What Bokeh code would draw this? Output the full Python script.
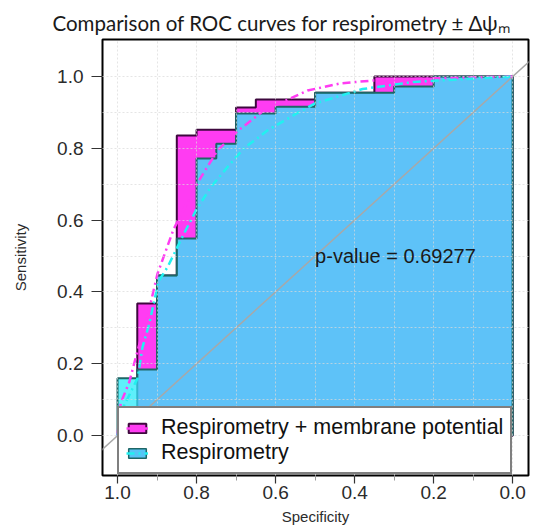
from bokeh.plotting import figure
from bokeh.models import (Range1d, FixedTicker, PrintfTickFormatter, Legend,
                          LegendItem, ColumnDataSource, Label)
from bokeh.embed import file_html
from bokeh.resources import INLINE

# ---- data ----
# ROC step curve vertices: Respirometry
resp_spec = [1.00, 1.00, 0.95, 0.95, 0.90, 0.90, 0.85, 0.85, 0.80, 0.80, 0.75, 0.75,
             0.70, 0.70, 0.60, 0.60, 0.50, 0.50, 0.30, 0.30, 0.20, 0.20, 0.00]
resp_sens = [0.000, 0.160, 0.160, 0.184, 0.184, 0.446, 0.446, 0.549, 0.549, 0.772,
             0.772, 0.813, 0.813, 0.897, 0.897, 0.916, 0.916, 0.955, 0.955, 0.972,
             0.972, 1.000, 1.000]
# ROC step curve vertices: Respirometry + membrane potential
combo_spec = [1.00, 0.95, 0.95, 0.90, 0.90, 0.85, 0.85, 0.80, 0.80, 0.70, 0.70,
              0.65, 0.65, 0.50, 0.50, 0.35, 0.35, 0.00]
combo_sens = [0.000, 0.000, 0.368, 0.368, 0.446, 0.446, 0.836, 0.836, 0.852, 0.852,
              0.914, 0.914, 0.936, 0.936, 0.955, 0.955, 1.000, 1.000]
# smoothed ROC curves
combo_smooth_spec = [1.00, 0.992, 0.97, 0.954, 0.916, 0.899, 0.858, 0.797, 0.747,
                     0.694, 0.630, 0.519, 0.435, 0.352, 0.20, 0.00]
combo_smooth_sens = [0.00, 0.09, 0.15, 0.217, 0.37, 0.45, 0.575, 0.705, 0.794,
                     0.850, 0.905, 0.961, 0.981, 0.989, 0.995, 1.00]
resp_smooth_spec = [1.00, 0.985, 0.949, 0.937, 0.92, 0.896, 0.873, 0.833, 0.80,
                    0.765, 0.72, 0.68, 0.62, 0.55, 0.50, 0.38, 0.25, 0.00]
resp_smooth_sens = [0.00, 0.08, 0.16, 0.245, 0.31, 0.43, 0.47, 0.56, 0.63,
                    0.69, 0.75, 0.80, 0.85, 0.895, 0.925, 0.965, 0.985, 1.00]
p_value = 0.69277
x_ticks = [1.0, 0.8, 0.6, 0.4, 0.2, 0.0]
y_ticks = [0.0, 0.2, 0.4, 0.6, 0.8, 1.0]
legend_labels = ["Respirometry + membrane potential", "Respirometry"]
title_text = "Comparison of ROC curves for respirometry \u00b1 \u0394\u03c8\u2098"

MAGENTA = "#FF3CF2"
MAGENTA_DARK = "#3E083E"
CYAN = "#2EEAFA"
TEAL_DARK = "#1E6666"
BLUE_SWATCH = "#58C4F6"
SMOOTH_CYAN = "#22F0F0"
TXT = "#2b2b2b"
FONT = "Liberation Sans"

p = figure(width=536, height=530, x_range=Range1d(1.038, -0.04),
           y_range=Range1d(-0.111, 1.103), output_backend="svg",
           toolbar_location=None, min_border_left=102, min_border_right=8,
           min_border_top=39, min_border_bottom=55)
p.background_fill_color = "white"
p.border_fill_color = "white"
p.outline_line_color = "black"
p.outline_line_width = 2

# grid every 0.1, drawn over the fills
grid_ticks = [i / 10 for i in range(11)]
for g in (p.xgrid, p.ygrid):
    g.ticker = FixedTicker(ticks=grid_ticks)
    g.grid_line_color = "#DADADA"
    g.grid_line_alpha = 0.7
    g.grid_line_dash = "2 2"
    g.grid_line_width = 1
    g.level = "guide"

# AUC polygons
combo_src = ColumnDataSource(dict(x=combo_spec + [combo_spec[-1]],
                                  y=combo_sens + [combo_sens[0]]))
resp_src = ColumnDataSource(dict(x=resp_spec + [resp_spec[-1]],
                                 y=resp_sens + [resp_sens[0]]))
combo_patch = p.patch("x", "y", source=combo_src, fill_color=MAGENTA, fill_alpha=1.0,
                      line_color=MAGENTA_DARK, line_width=2)
p.patch("x", "y", source=resp_src, fill_color=CYAN, fill_alpha=0.77,
        line_color=None)
p.line("x", "y", source=resp_src, line_color=TEAL_DARK, line_width=2)

# diagonal reference
p.line([1.1, -0.1], [-0.1, 1.1], line_color="#A8A8A8", line_width=1.5)

# smoothed curves
combo_smooth = p.line(combo_smooth_spec, combo_smooth_sens, line_color=MAGENTA,
                      line_width=2.5, line_dash="8 4 2 4")
resp_smooth = p.line(resp_smooth_spec, resp_smooth_sens, line_color=SMOOTH_CYAN,
                     line_width=2.5, line_dash="8 4 2 4")

# p-value text
p.add_layout(Label(x=0.5, y=0.5, text=f"p-value = {p_value}", text_align="left",
                   text_baseline="middle", text_font=FONT,
                   text_font_size="20px", text_color="#1a1a1a"))

# legend swatch renderer (no visible data)
nan = float("nan")
swatch_src = ColumnDataSource(dict(x=[nan], y=[nan]))
lg_r_fill = p.patch("x", "y", source=swatch_src, fill_color=BLUE_SWATCH,
                    line_color=TEAL_DARK, line_width=1.5)
legend = Legend(items=[LegendItem(label=legend_labels[0], renderers=[combo_patch, combo_smooth]),
                       LegendItem(label=legend_labels[1], renderers=[lg_r_fill, resp_smooth])],
                location=(15, 1), orientation="vertical")
legend.border_line_color = "black"
legend.border_line_width = 2
legend.background_fill_color = "white"
legend.background_fill_alpha = 1.0
legend.label_text_font = FONT
legend.label_text_font_size = "21.5px"
legend.label_text_color = "#111111"
legend.glyph_width = 22
legend.glyph_height = 12
legend.label_standoff = 13
legend.padding = 7
legend.spacing = 0
legend.margin = 0
legend.label_height = 25
p.add_layout(legend, "center")

# axes
p.xaxis.ticker = FixedTicker(ticks=x_ticks, minor_ticks=[0.9, 0.7, 0.5, 0.3, 0.1])
p.yaxis.ticker = FixedTicker(ticks=y_ticks)
for ax in (p.xaxis, p.yaxis):
    ax.formatter = PrintfTickFormatter(format="%.1f")
    ax.axis_line_color = None
    ax.major_tick_line_color = "#333333"
    ax.major_tick_line_width = 1.2
    ax.major_tick_in = 0
    ax.major_label_text_font = FONT
    ax.major_label_text_font_size = "19px"
    ax.major_label_text_color = TXT
    ax.axis_label_text_font = FONT
    ax.axis_label_text_font_size = "15px"
    ax.axis_label_text_font_style = "normal"
    ax.axis_label_text_color = TXT
p.xaxis.major_tick_out = 8
p.xaxis.minor_tick_out = 5
p.xaxis.minor_tick_in = 0
p.xaxis.minor_tick_line_color = "#999999"
p.yaxis.minor_tick_line_color = None
p.yaxis.major_tick_out = 11
p.xaxis.major_label_standoff = 2
p.yaxis.major_label_standoff = 8
p.xaxis.axis_label = "Specificity"
p.yaxis.axis_label = "Sensitivity"
p.xaxis.axis_label_standoff = 6
p.yaxis.axis_label_standoff = 25

# title
p.title.text = title_text
p.title.text_font = "Lato"
p.title.text_font_size = "20.5px"
p.title.text_font_style = "normal"
p.title.text_color = "#1a1a1a"
p.title.align = "left"
p.title.offset = -50

open("out.html", "w").write(file_html(p, INLINE))
